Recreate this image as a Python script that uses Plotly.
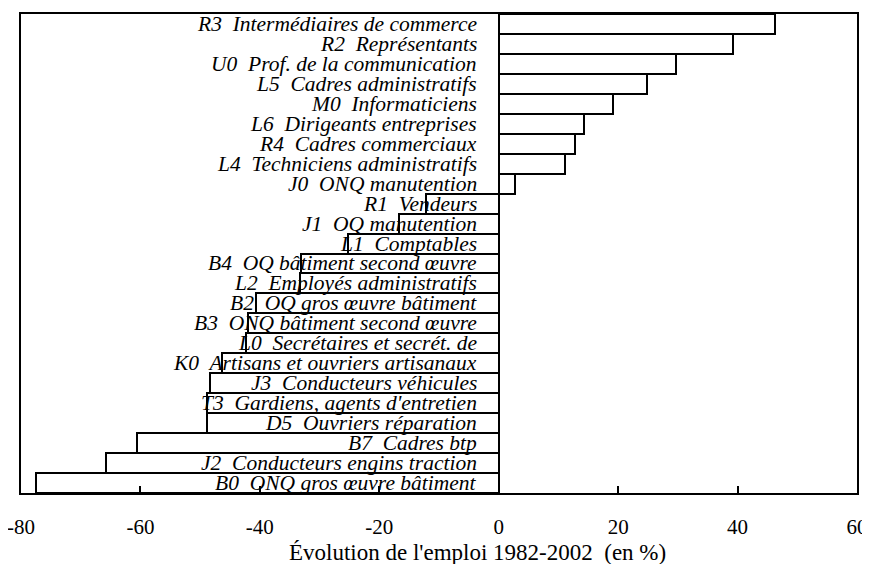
import plotly.graph_objects as go

categories = [
    "R3\u00a0 Intermédiaires de commerce",
    "R2\u00a0 Représentants",
    "U0\u00a0 Prof. de la communication",
    "L5\u00a0 Cadres administratifs",
    "M0\u00a0 Informaticiens",
    "L6\u00a0 Dirigeants entreprises",
    "R4\u00a0 Cadres commerciaux",
    "L4\u00a0 Techniciens administratifs",
    "J0\u00a0 ONQ manutention",
    "R1\u00a0 Vendeurs",
    "J1\u00a0 OQ manutention",
    "L1\u00a0 Comptables",
    "B4\u00a0 OQ bâtiment second œuvre",
    "L2\u00a0 Employés administratifs",
    "B2\u00a0 OQ gros œuvre bâtiment",
    "B3\u00a0 ONQ bâtiment second œuvre",
    "L0\u00a0 Secrétaires et secrét. de",
    "K0\u00a0 Artisans et ouvriers artisanaux",
    "J3\u00a0 Conducteurs véhicules",
    "T3\u00a0 Gardiens, agents d'entretien",
    "D5\u00a0 Ouvriers réparation",
    "B7\u00a0 Cadres btp",
    "J2\u00a0 Conducteurs engins traction",
    "B0\u00a0 ONQ gros œuvre bâtiment",
]
values = [46.2, 39.2, 29.7, 24.8, 19.2, 14.2, 12.8, 11.1, 2.8, -12.1, -16.7,
          -25.2, -33.1, -33.2, -40.7, -42.0, -42.3, -46.4, -48.3, -48.8,
          -48.8, -60.5, -65.8, -77.5]
tick_vals = [-80, -60, -40, -20, 0, 20, 40, 60]
tick_text = ["-80", "-60", "-40", "-20", "0", "20", "40", "60"]
x_title = "Évolution de l'emploi 1982-2002\u00a0 (en %)"

serif = "'Liberation Serif'"

fig = go.Figure()
fig.add_trace(go.Bar(
    x=values, y=list(range(len(categories))), orientation="h",
    marker=dict(color="white", line=dict(color="black", width=2)),
    hoverinfo="skip", showlegend=False,
))

for i, lab in enumerate(categories):
    fig.add_annotation(
        x=0, y=i, xref="x", yref="y", text=lab, showarrow=False,
        xanchor="right", yanchor="middle", xshift=-20,
        font=dict(family=serif, size=21.5, color="black", style="italic"),
    )

fig.add_annotation(
    x=(477.5 - 21) / 836.5, y=-0.125, xref="paper", yref="paper",
    text=x_title, showarrow=False, xanchor="center", yanchor="middle",
    font=dict(family=serif, size=23, color="black"),
)

fig.update_layout(
    width=862, height=556,
    margin=dict(l=13, r=12.5, t=6, b=71, autoexpand=False),
    paper_bgcolor="white", plot_bgcolor="white",
    bargap=0,
    font=dict(family=serif, size=21, color="black"),
    xaxis=dict(
        range=[-80, 60], tickvals=tick_vals, ticktext=tick_text,
        ticks="inside", ticklen=7, tickwidth=2, tickcolor="black",
        showline=True, linecolor="black", linewidth=2, mirror=True,
        showgrid=False, zeroline=False, ticklabelstandoff=14,
        ticklabeloverflow="allow", automargin=False,
        tickfont=dict(family=serif, size=21, color="black"),
    ),
    yaxis=dict(
        range=[len(categories) - 0.5, -0.5],
        showticklabels=False, ticks="",
        showline=True, linecolor="black", linewidth=2, mirror=True,
        showgrid=False, zeroline=False, automargin=False,
    ),
)

fig.write_html("out.html")
